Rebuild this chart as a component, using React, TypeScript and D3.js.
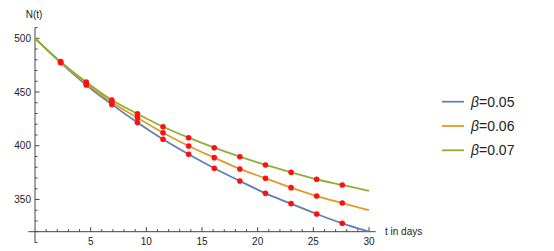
import React from "react";
import * as d3 from "d3";

const tDays = [0, 2.3, 4.6, 6.9, 9.2, 11.5, 13.8, 16.1, 18.4, 20.7, 23.0, 25.3, 27.6, 30];
const nBeta005 = [500, 477.3, 456.5, 438.5, 421.6, 406.0, 392.0, 379.0, 367.2, 355.7, 346.1, 336.5, 327.8, 320.0];
const nBeta006 = [500, 477.8, 458.0, 440.5, 426.0, 412.1, 399.8, 388.9, 378.4, 369.7, 361.0, 353.2, 346.7, 340.0];
const nBeta007 = [500, 478.3, 459.3, 442.5, 429.7, 417.7, 407.5, 398.2, 389.8, 382.1, 375.3, 368.8, 363.5, 357.9];
const seriesLabels = ["0.05", "0.06", "0.07"];
const seriesColors = ["#5E81B5", "#E19C24", "#8FB032"];
const xMajorTicks = [5, 10, 15, 20, 25, 30];
const yMajorTicks = [350, 400, 450, 500];

export default function App() {
  const W = 554, H = 251;
  const x = d3.scaleLinear().domain([0, 30]).range([35, 369]);
  const y = d3.scaleLinear().domain([320, 500]).range([231.7, 38.3]);
  const all = [nBeta005, nBeta006, nBeta007];
  const line = d3.line<number>()
    .x((_, i) => x(tDays[i]))
    .y((d) => y(d))
    .curve(d3.curveMonotoneX);
  const x0 = x(0), y0 = y(320);
  const xMinor = d3.range(1, 31).filter((v) => v % 5 !== 0);
  const yMinor = d3.range(310, 511, 10).filter((v) => v % 50 !== 0);
  const axisColor = "#444";
  const font = "'Liberation Sans', Arial, sans-serif";
  return (
    <svg width={W} height={H} style={{ position: "absolute", left: 0, top: 0, background: "#fff" }} fontFamily={font}>
      <defs>
        <clipPath id="plotclip">
          <rect x={x(-0.6)} y={y(511)} width={x(30.6) - x(-0.6)} height={y(320) - y(511)} />
        </clipPath>
      </defs>
      {/* axes */}
      <line x1={x(-0.6)} x2={x(30.6)} y1={y0} y2={y0} stroke={axisColor} strokeWidth={1} />
      <line x1={x0} x2={x0} y1={y(510)} y2={y(310)} stroke={axisColor} strokeWidth={1} />
      {xMinor.map((v) => (
        <line key={"xm" + v} x1={x(v)} x2={x(v)} y1={y0} y2={y0 - 2.5} stroke={axisColor} strokeWidth={1} />
      ))}
      {xMajorTicks.map((v) => (
        <g key={"xM" + v}>
          <line x1={x(v)} x2={x(v)} y1={y0} y2={y0 - 4.5} stroke={axisColor} strokeWidth={1} />
          <text x={x(v)} y={245} textAnchor="middle" fontSize={10} fill="#222">{v}</text>
        </g>
      ))}
      {yMinor.map((v) => (
        <line key={"ym" + v} x1={x0} x2={x0 + 2.5} y1={y(v)} y2={y(v)} stroke={axisColor} strokeWidth={1} />
      ))}
      {yMajorTicks.map((v) => (
        <g key={"yM" + v}>
          <line x1={x0} x2={x0 + 4.5} y1={y(v)} y2={y(v)} stroke={axisColor} strokeWidth={1} />
          <text x={31} y={y(v) + 3.5} textAnchor="end" fontSize={10} fill="#222">{v}</text>
        </g>
      ))}
      <text x={34} y={18} textAnchor="middle" fontSize={10} fill="#222">N(t)</text>
      <text x={385} y={235} fontSize={10} fill="#222">t in days</text>
      {/* curves */}
      <g clipPath="url(#plotclip)">
        {all.map((s, k) => (
          <path key={"c" + k} d={line(s) || ""} fill="none" stroke={seriesColors[k]} strokeWidth={1.8} />
        ))}
      </g>
      {/* points */}
      {all.map((s, k) =>
        s.map((v, i) =>
          i > 0 && i < s.length - 1 ? (
            <circle key={"p" + k + "-" + i} cx={x(tDays[i])} cy={y(v)} r={2.8} fill="#FF1010" />
          ) : null
        )
      )}
      {/* legend */}
      {seriesLabels.map((lab, k) => {
        const ly = 101.7 + k * 24.3;
        return (
          <g key={"l" + k}>
            <line x1={442} x2={464} y1={ly} y2={ly} stroke={seriesColors[k]} strokeWidth={1.8} />
            <text x={471} y={ly + 5} fontSize={14} fill="#222">
              <tspan fontStyle="italic">β</tspan>=
              {lab}
            </text>
          </g>
        );
      })}
    </svg>
  );
}
